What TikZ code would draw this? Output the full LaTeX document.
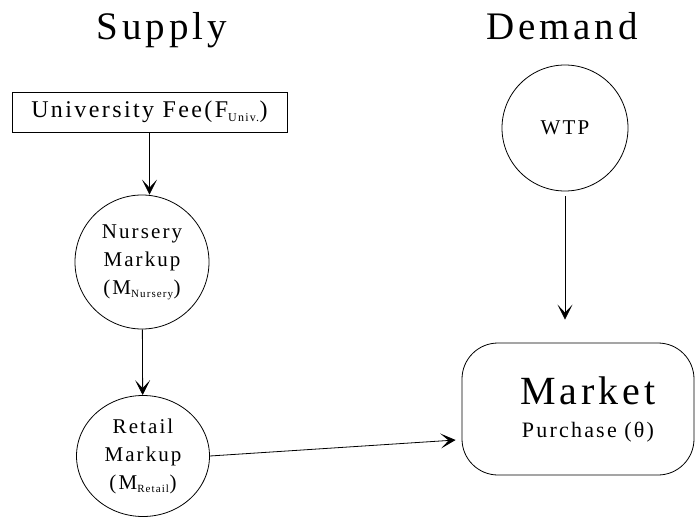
\documentclass[tikz,border=0pt]{standalone}
\usepackage{fontspec}
\setmainfont[LetterSpace=10]{Liberation Serif}
\usetikzlibrary{arrows.meta,shapes.geometric}
\begin{document}
\begin{tikzpicture}[x=1pt,y=-1pt,line width=0.8pt,
>={Stealth[length=15pt,width=15pt,inset=8pt]},
title/.style={anchor=base,font=\fontsize{39}{44}\selectfont},
markup/.style={draw,align=center,inner sep=0pt,font=\fontsize{21}{28}\selectfont},
fee/.style={draw,minimum width=275pt,minimum height=40pt,inner sep=0pt,font=\fontsize{24}{28}\selectfont},
market/.style={draw,rounded corners=36pt,minimum width=232pt,minimum height=132pt,align=center,
  font=\fontsize{40}{48}\selectfont}]
\useasboundingbox (0,0) rectangle (696,519);
\node[title] (supply) at (162,40) {Supply};
\node[title] (demand) at (562,40) {Demand};
\node[fee] (fee) at (149.5,112) {University Fee(F\textsubscript{\fontsize{12}{13}\selectfont Univ.})};
\node[markup,circle,minimum size=134pt] (nursery) at (142,262)
    {Nursery\\Markup\\(M\textsubscript{\fontsize{11}{12}\selectfont Nursery})};
\node[markup,ellipse,minimum width=133pt,minimum height=121pt] (retail) at (143,456)
    {Retail\\Markup\\(M\textsubscript{\fontsize{11}{12}\selectfont Retail})};
\node[markup,circle,minimum size=126pt] (wtp) at (565,128) {WTP};
\node[market] (market) at (578,409)
    {\hspace*{20pt}Market\\[-15pt]{\fontsize{22}{26}\selectfont\hspace*{20pt}Purchase (θ)}};
% supply chain
\draw[->] (fee.south) -- (fee.south |- nursery.north);
\draw[->] (nursery) -- (retail);
\draw[->] (retail.east) -- ([shift={(-6,31)}]market.west);
% demand side
\draw[->,shorten <=5pt,shorten >=23pt] (wtp.south) -- (wtp.south |- market.north);
\end{tikzpicture}
\end{document}
